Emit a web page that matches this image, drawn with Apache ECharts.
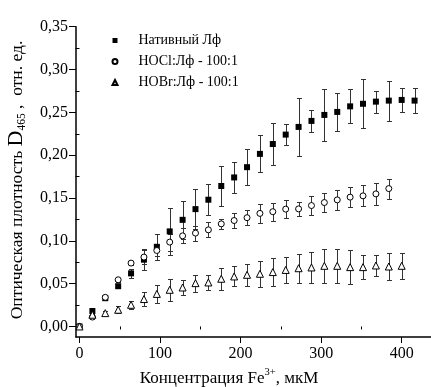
<!DOCTYPE html>
<html>
<head>
<meta charset="utf-8">
<script src="https://cdn.jsdelivr.net/npm/echarts@6/dist/echarts.min.js"></script>
<style>
html,body{margin:0;padding:0;background:#fff;}
#chart{width:431px;height:387px;}
</style>
</head>
<body>
<div id="chart"></div>
<script>
// ---- data ----
const concentrations = [0,16,32,48,64,80,96,112,128,144,160,176,192,208,224,240,256,272,288,304,320,336,352,368,384,400,416];
const seriesNames = ['Нативный Лф', 'HOCl:Лф - 100:1', 'HOBr:Лф - 100:1'];
const native = [0,0.018,0.033,0.047,0.062,0.078,0.093,0.111,0.1245,0.137,0.148,0.164,0.174,0.186,0.2015,0.213,0.224,0.233,0.240,0.247,0.2505,0.257,0.260,0.2625,0.2637,0.2645,0.2637];
const nativeErr = [0,0.003,0.002,0.002,0.005,0.012,0.015,0.027,0.022,0.023,0.018,0.023,0.018,0.021,0.0215,0.024,0.0127,0.0334,0.0132,0.030,0.022,0.020,0.0284,0.013,0.0233,0.0136,0.015];
const hocl = [0,0.011,0.034,0.0545,0.074,0.081,0.0887,0.0985,0.1058,0.109,0.1128,0.1198,0.1237,0.127,0.132,0.134,0.137,0.1373,0.1412,0.1447,0.1478,0.151,0.1525,0.1548,0.161];
const hoclErr = [0,0.002,0.002,0.002,0.002,0.008,0.006,0.010,0.0087,0.0087,0.0087,0.006,0.009,0.009,0.011,0.0105,0.0107,0.0078,0.011,0.0107,0.0113,0.0117,0.0124,0.0126,0.0117];
const hobr = [0,0.0137,0.0156,0.0195,0.0253,0.032,0.038,0.0428,0.0455,0.0506,0.0514,0.0557,0.0584,0.0603,0.0615,0.0635,0.066,0.068,0.0689,0.0708,0.0708,0.0693,0.0693,0.0712,0.070,0.0708];
const hobrErr = [0,0.002,0.002,0.004,0.005,0.008,0.0107,0.0126,0.009,0.010,0.0087,0.013,0.0117,0.013,0.015,0.016,0.015,0.017,0.0177,0.020,0.020,0.0198,0.0136,0.0117,0.016,0.015];
const yTicks = [0,0.05,0.10,0.15,0.20,0.25,0.30,0.35];
const yMinorTicks = [0.025,0.075,0.125,0.175,0.225,0.275,0.325];
const xTicks = [0,100,200,300,400];
const xMinorTicks = [50,150,250,350];
const yTitle = 'Оптическая плотность ';
const xTitle = 'Концентрация Fe';

// ---- build ----
const FONT = '"Liberation Serif", "DejaVu Serif", serif';
function pts(ys){ return ys.map((v,i)=>[concentrations[i], v]); }
function errPts(ys, es){ return ys.map((v,i)=>[concentrations[i], v, es[i]]); }

function errRender(params, api){
  const x = api.value(0), y = api.value(1), e = api.value(2);
  if (!e) return null;
  const t = api.coord([x, y + e]);
  const b = api.coord([x, y - e]);
  const cx = Math.round(t[0]) + 0.5;
  const ty = Math.round(t[1]) + 0.5, by = Math.round(b[1]) + 0.5;
  const hw = 2.5;
  const st = {stroke:'#333', lineWidth:1};
  return {type:'group', children:[
    {type:'line', shape:{x1:cx,y1:ty,x2:cx,y2:by}, style:st},
    {type:'line', shape:{x1:cx-hw,y1:ty,x2:cx+hw,y2:ty}, style:st},
    {type:'line', shape:{x1:cx-hw,y1:by,x2:cx+hw,y2:by}, style:st}
  ]};
}

const fmtY = v => v.toFixed(2).replace('.', ',');

const axisLineStyle = {color:'#000', width:1.5};
const X_MIN = -4.35, X_MAX = 436.4, Y_MIN = -0.0123, Y_MAX = 0.35;

const option = {
  animation:false,
  backgroundColor:'#fff',
  grid:{left:76, right:0, top:26.7, bottom:50, containLabel:false},
  xAxis:[{
    type:'value', min:X_MIN, max:X_MAX,
    axisLine:{show:true, onZero:false, lineStyle:axisLineStyle},
    axisTick:{show:true, inside:false, length:6, lineStyle:{color:'#000', width:1}, customValues:xTicks},
    axisLabel:{show:true, margin:9, color:'#000', fontFamily:FONT, fontSize:16, customValues:xTicks, formatter:v=>String(v)},
    splitLine:{show:false}
  },{
    type:'value', min:X_MIN, max:X_MAX, position:'bottom',
    axisLine:{show:false},
    axisTick:{show:true, inside:false, length:3, lineStyle:{color:'#000', width:1}, customValues:xMinorTicks},
    axisLabel:{show:false},
    splitLine:{show:false}
  }],
  yAxis:[{
    type:'value', min:Y_MIN, max:Y_MAX,
    axisLine:{show:true, onZero:false, lineStyle:axisLineStyle},
    axisTick:{show:true, inside:false, length:7, lineStyle:{color:'#000', width:1}, customValues:yTicks},
    axisLabel:{show:true, margin:8, color:'#000', fontFamily:FONT, fontSize:16, customValues:yTicks, formatter:fmtY},
    splitLine:{show:false}
  },{
    type:'value', min:Y_MIN, max:Y_MAX, position:'left',
    axisLine:{show:false},
    axisTick:{show:true, inside:false, length:4, lineStyle:{color:'#000', width:1}, customValues:yMinorTicks},
    axisLabel:{show:false},
    splitLine:{show:false}
  }],
  legend:{
    orient:'vertical', left:111.5, top:33, padding:0, itemWidth:5, itemHeight:5, itemGap:6,
    data:[{name:seriesNames[0], icon:'rect'},{name:seriesNames[1], icon:'circle'},{name:seriesNames[2], icon:'triangle'}],
    textStyle:{fontFamily:FONT, fontSize:14, color:'#000', padding:[0,0,0,16], lineHeight:15}
  },
  graphic:[
    {type:'text', x:17, y:180, rotation:Math.PI/2, silent:true,
     style:{
       text:'{a|' + yTitle + '}{d|D}{s|465}{a| ,  отн. ед.}',
       align:'center', verticalAlign:'middle',
       rich:{
         a:{fontFamily:FONT, fontSize:17.5, fill:'#000', lineHeight:22, verticalAlign:'bottom', padding:[0,0,2,0]},
         d:{fontFamily:FONT, fontSize:22, fill:'#000', lineHeight:22, verticalAlign:'bottom', padding:[0,0,1,0]},
         s:{fontFamily:FONT, fontSize:11.5, fill:'#000', lineHeight:22, verticalAlign:'bottom', padding:[0,0,0,0]}
       }
     }},
    {type:'text', x:229, y:377, silent:true,
     style:{
       text:'{a|' + xTitle + '}{p|3+}{a|, мкМ}',
       align:'center', verticalAlign:'middle',
       rich:{
         a:{fontFamily:FONT, fontSize:17, fill:'#000', lineHeight:20, verticalAlign:'bottom'},
         p:{fontFamily:FONT, fontSize:10.5, fill:'#000', lineHeight:20, verticalAlign:'top'}
       }
     }}
  ],
  series:[
    {type:'custom', name:'errN', renderItem:errRender, data:errPts(native, nativeErr), z:1, encode:{x:0,y:1}},
    {type:'custom', name:'errC', renderItem:errRender, data:errPts(hocl, hoclErr), z:1, encode:{x:0,y:1}},
    {type:'custom', name:'errB', renderItem:errRender, data:errPts(hobr, hobrErr), z:1, encode:{x:0,y:1}},
    {type:'scatter', name:seriesNames[0], symbol:'rect', symbolSize:6, data:pts(native), z:3,
     itemStyle:{color:'#000', borderColor:'#000', borderWidth:0, opacity:1}},
    {type:'scatter', name:seriesNames[1], symbol:'circle', symbolSize:6, data:pts(hocl), z:4,
     itemStyle:{color:'#fff', borderColor:'#000', borderWidth:1, opacity:1}},
    {type:'scatter', name:seriesNames[2], symbol:'triangle', symbolSize:7, data:pts(hobr), z:5,
     itemStyle:{color:'#fff', borderColor:'#000', borderWidth:1, opacity:1}}
  ]
};

const chart = echarts.init(document.getElementById('chart'), null, {renderer:'canvas'});
chart.setOption(option);
</script>
</body>
</html>
